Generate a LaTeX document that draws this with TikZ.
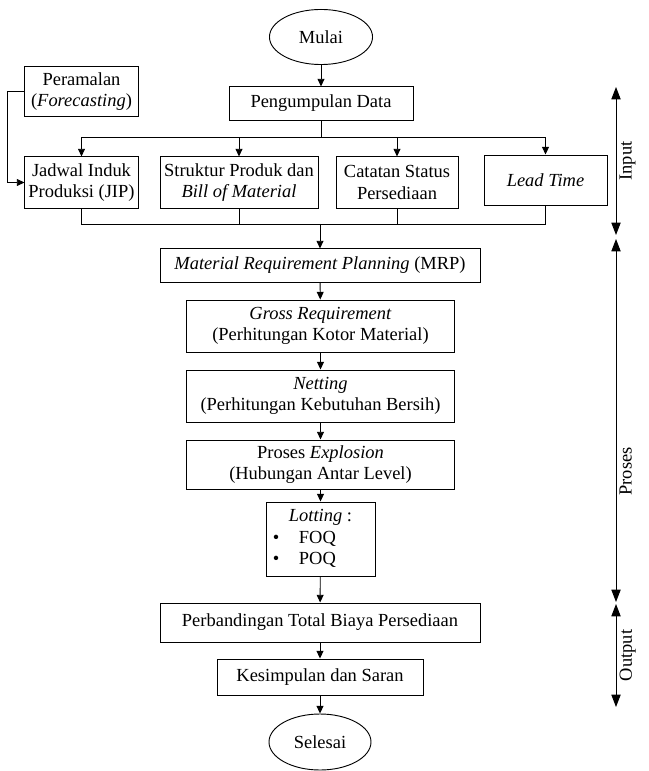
\documentclass[tikz,border=0pt]{standalone}
\usepackage{fontspec}
\setmainfont{Liberation Serif}
\usetikzlibrary{shapes}
\usetikzlibrary{arrows.meta}
\tikzset{
    box/.style = {rectangle, draw=black, align=center, inner sep=1pt},
    term/.style = {ellipse, draw=black, align=center, inner sep=1pt},
    edgen/.style = {-{Triangle[length=5pt,width=4.5pt]}},
    edgep/.style = {{Triangle[length=8pt,width=6pt]}-{Triangle[length=8pt,width=6pt]}}, % phase
    phase/.style = {rotate=90, anchor=north, inner sep=2pt}
}

\begin{document}
\begin{tikzpicture}[x=0.65pt, y=-0.65pt, line width=0.6pt,
    font=\fontsize{12}{14}\selectfont]
  \useasboundingbox (0,0) rectangle (648,771);

  \node[term, minimum width=67pt, minimum height=35.8pt] (mulai) at (321,37) {Mulai};
  \node[box, minimum width=119.6pt, minimum height=21.5pt] (kumpul) at (321,103.5) {Pengumpulan Data};
  \node[box, minimum width=73.5pt, minimum height=31.9pt] (ramal) at (81.5,91.5) {Peramalan\\(\textit{Forecasting})};

  \node[box, minimum width=73.5pt, minimum height=33.2pt] (jip) at (81.5,182.5) {Jadwal Induk\\Produksi (JIP)};
  \node[box, minimum width=102.7pt, minimum height=33.2pt] (bom) at (239,182.5) {Struktur Produk dan\\\textit{Bill of Material}};
  \node[box, minimum width=79.3pt, minimum height=33.2pt] (stok) at (397,182.5) {Catatan Status\\Persediaan};
  \node[box, minimum width=80pt, minimum height=32.5pt] (lead) at (545.5,180) {\textit{Lead Time}};

  \node[box, minimum width=208pt, minimum height=21.5pt] (mrp) at (320,265.5) {\textit{Material Requirement Planning} (MRP)};
  \node[box, minimum width=174.2pt, minimum height=33.8pt] (gross) at (320.5,326) {\textit{Gross Requirement}\\(Perhitungan Kotor Material)};
  \node[box, minimum width=174.2pt, minimum height=33.8pt] (net) at (320.5,396) {\textit{Netting}\\(Perhitungan Kebutuhan Bersih)};
  \node[box, minimum width=174.2pt, minimum height=31.9pt] (expl) at (320.5,464.5) {Proses \textit{Explosion}\\(Hubungan Antar Level)};
  \node[box, minimum width=70.9pt, minimum height=48.1pt] (lot) at (320.5,539) {%
    \begin{tabular}{@{}p{17pt}@{}p{45pt}@{}}
      \multicolumn{2}{@{}c@{}}{\textit{Lotting} :}\\
      \textbullet & FOQ\\
      \textbullet & POQ
    \end{tabular}};
  \node[box, minimum width=208pt, minimum height=25.4pt] (banding) at (320,622.5) {Perbandingan Total Biaya Persediaan};
  \node[box, minimum width=133.9pt, minimum height=23.4pt] (simpul) at (320,677) {Kesimpulan dan Saran};
  \node[term, minimum width=66.3pt, minimum height=36.4pt] (selesai) at (320,742) {Selesai};

  \draw[edgen] (mulai) -- (kumpul);
  \coordinate (bagi) at (321,137);
  \draw (kumpul) -- (bagi);
  \foreach \n in {jip,bom,stok,lead}
    \draw[edgen] (bagi) -| (\n.north);
  \draw[edgen] (ramal.west) -- ++(-17,0) |- (jip.west);

  \coordinate (gabung) at (320,224);
  \foreach \n in {jip,bom,stok,lead}
    \draw (\n.south) |- (gabung);
  \draw[edgen] (gabung) -- (mrp);

  \foreach \a/\b in {mrp/gross,gross/net,net/expl,expl/lot,lot/banding,banding/simpul,simpul/selesai}
    \draw[edgen] (\a) -- (\b);

  % tahap
  \coordinate (in1) at (616,87);
  \coordinate (in2) at (616,235);
  \coordinate (pr1) at (616,239);
  \coordinate (pr2) at (616,602);
  \coordinate (out1) at (616,604);
  \coordinate (out2) at (616,707);
  \draw[edgep] (in1) -- (in2) node[phase, midway] {Input};
  \draw[edgep] (pr1) -- (pr2) node[phase, pos=0.64] {Proses};
  \draw[edgep] (out1) -- (out2) node[phase, midway] {Output};
\end{tikzpicture}
\end{document}
